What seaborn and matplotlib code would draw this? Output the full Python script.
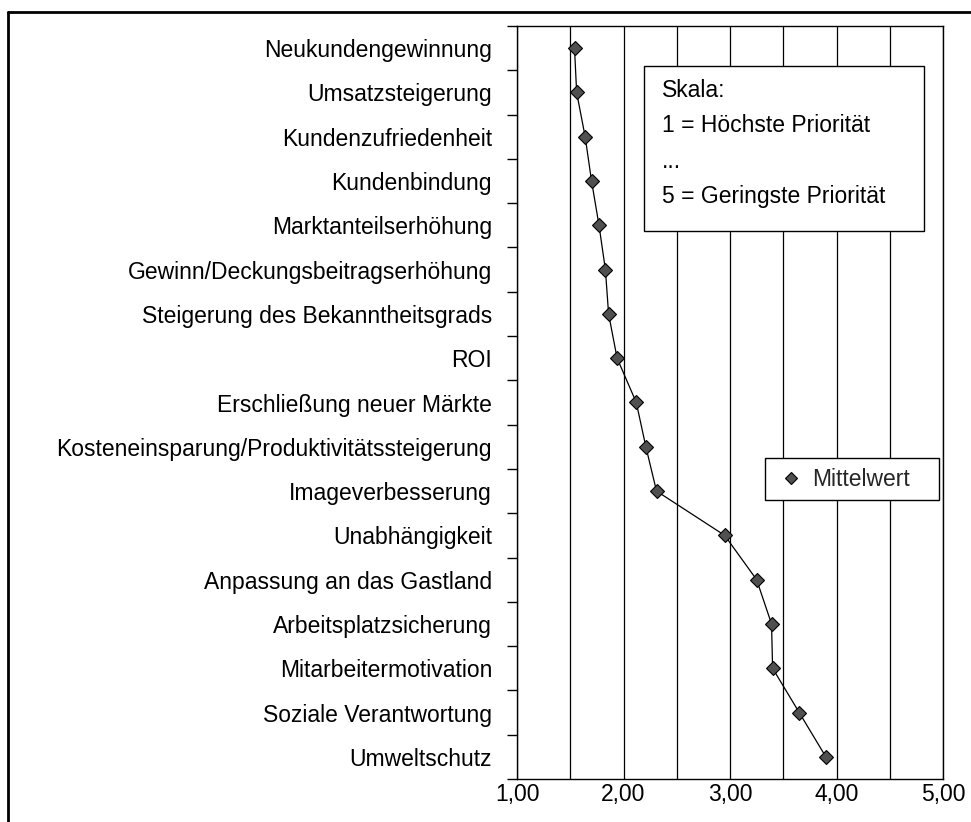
import matplotlib
matplotlib.use("Agg")
import matplotlib.pyplot as plt
import seaborn as sns
import numpy as np
import pandas as pd
from matplotlib.lines import Line2D
from matplotlib.patches import Rectangle

categories = [
    "Neukundengewinnung",
    "Umsatzsteigerung",
    "Kundenzufriedenheit",
    "Kundenbindung",
    "Marktanteilserhöhung",
    "Gewinn/Deckungsbeitragserhöhung",
    "Steigerung des Bekanntheitsgrads",
    "ROI",
    "Erschließung neuer Märkte",
    "Kosteneinsparung/Produktivitätssteigerung",
    "Imageverbesserung",
    "Unabhängigkeit",
    "Anpassung an das Gastland",
    "Arbeitsplatzsicherung",
    "Mitarbeitermotivation",
    "Soziale Verantwortung",
    "Umweltschutz",
]
mittelwert = [1.54, 1.56, 1.64, 1.70, 1.77, 1.83, 1.86, 1.94, 2.12, 2.21,
              2.31, 2.95, 3.25, 3.39, 3.40, 3.65, 3.90]
x_ticks = [1, 2, 3, 4, 5]
x_ticklabels = ["1,00", "2,00", "3,00", "4,00", "5,00"]
scale_lines = ["Skala:", "1 = Höchste Priorität", "...", "5 = Geringste Priorität"]
series_name = "Mittelwert"

sns.set_theme(style="white")
plt.rcParams['font.family'] = ['Liberation Sans', 'DejaVu Sans']

FS = 16.5
W, H = 971, 822
fig = plt.figure(figsize=(W / 100, H / 100), dpi=100)
ax = fig.add_axes([517 / W, 1 - 779 / H, (943 - 517) / W, (779 - 26) / H])

df = pd.DataFrame({"cat": categories, "pos": np.arange(len(categories)), series_name: mittelwert})
sns.lineplot(data=df, x=series_name, y="pos", sort=False, orient="y", ax=ax,
             color="black", linewidth=0.9, marker="D", markersize=7.5,
             markerfacecolor="#505050", markeredgecolor="black", markeredgewidth=0.8,
             legend=False)

n = len(categories)
ax.set_ylim(n - 0.5, -0.5)
ax.set_xlim(1, 5)
ax.set_xlabel("")
ax.set_ylabel("")

ax.set_yticks(np.arange(n))
ax.set_yticklabels(categories, fontsize=FS, color="black")
ax.set_yticks(np.arange(n + 1) - 0.5, minor=True)
ax.tick_params(axis="y", which="major", length=0, pad=18)
ax.tick_params(axis="y", which="minor", length=7, width=1, color="black", left=True, direction="out")

ax.set_xticks(x_ticks)
ax.set_xticklabels(x_ticklabels, fontsize=FS, color="black")
ax.set_xticks(np.arange(1.5, 5, 1.0), minor=True)
ax.tick_params(axis="x", which="both", length=0, pad=3)
ax.grid(True, axis="x", which="both", color="black", linewidth=0.9)
ax.grid(False, axis="y")
ax.set_axisbelow(True)
for s in ax.spines.values():
    s.set_color("black")
    s.set_linewidth(1.0)

# legend box + legend
fig.add_artist(Rectangle((765 / W, 1 - 500 / H), (939 - 765) / W, (500 - 458) / H,
                         transform=fig.transFigure, facecolor="white", edgecolor="black",
                         linewidth=1.0, zorder=5))
handle = Line2D([], [], linestyle="none", marker="D", markersize=6.5,
                markerfacecolor="#505050", markeredgecolor="black", markeredgewidth=0.8)
leg = fig.legend([handle], [series_name], loc="center left",
                 bbox_to_anchor=(780 / W, 1 - 480 / H),
                 fontsize=FS, frameon=False,
                 handlelength=1.0, handletextpad=0.42, borderpad=0, borderaxespad=0)
leg.set_zorder(6)

# scale text box
fig.add_artist(Rectangle((644 / W, 1 - 231 / H), (924 - 644) / W, (231 - 66) / H,
                         transform=fig.transFigure, facecolor="white", edgecolor="black",
                         linewidth=1.0, zorder=5))
for i, line in enumerate(scale_lines):
    fig.text(662 / W, 1 - (97 + i * 35.3) / H, line, fontsize=FS, va="baseline", ha="left",
             zorder=6, color="black")

# outer frame (left and top edges visible)
fig.add_artist(Line2D([8 / W, 8 / W], [0, 1 - 12 / H], transform=fig.transFigure,
                      color="black", linewidth=2))
fig.add_artist(Line2D([8 / W, 1], [1 - 12 / H, 1 - 12 / H], transform=fig.transFigure,
                      color="black", linewidth=2))

fig.savefig("out.png", dpi=100)
